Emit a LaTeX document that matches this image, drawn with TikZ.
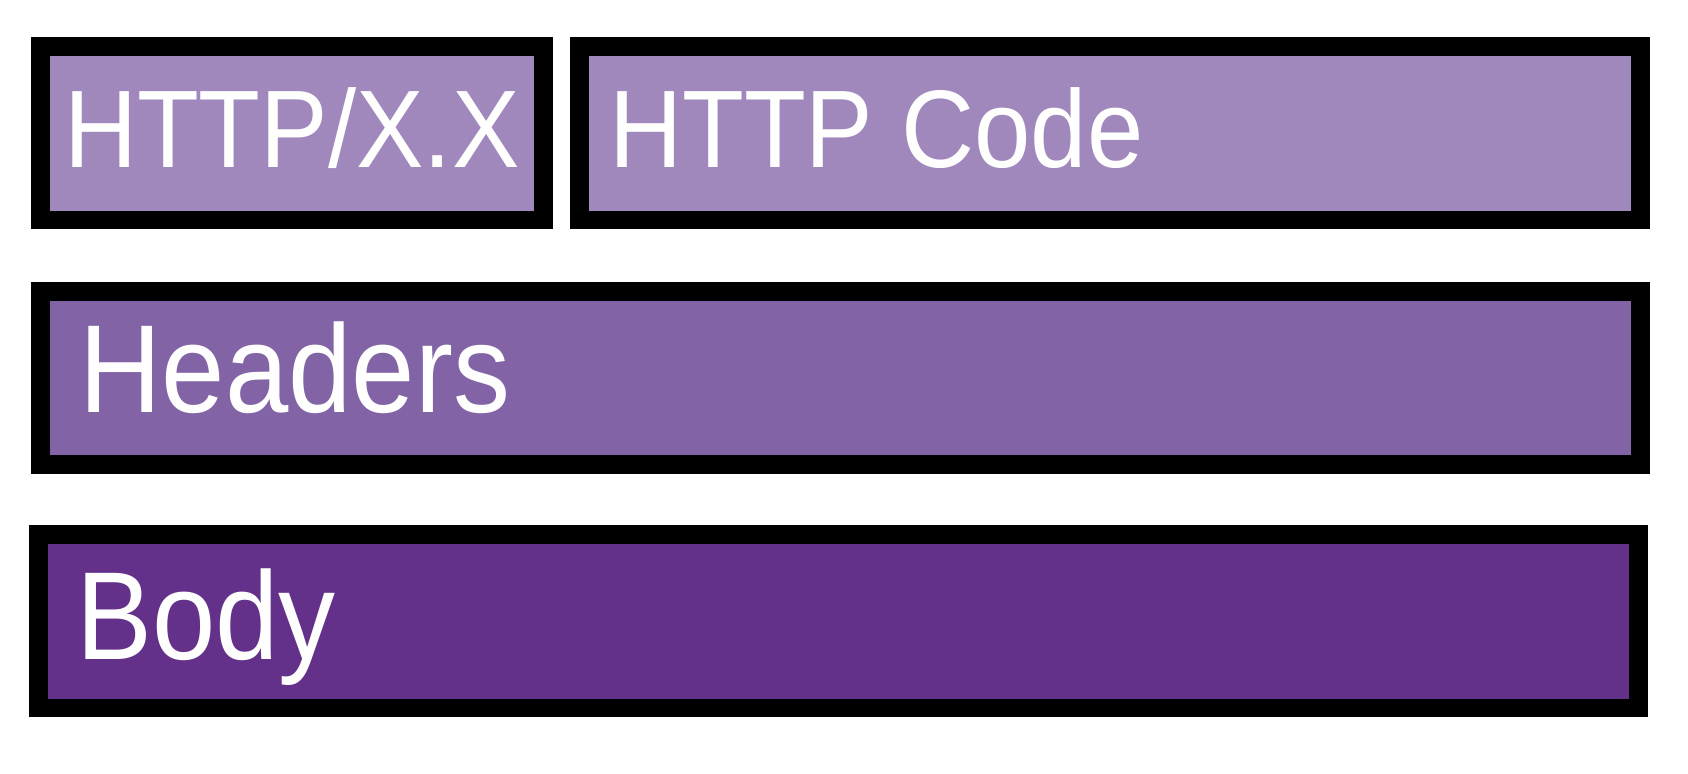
\documentclass[tikz,border=0pt]{standalone}
\usepackage{graphicx}
\usepackage{fontspec}
\setmainfont{Liberation Sans}
\definecolor{statuslight}{HTML}{A088BD}
\definecolor{headermid}{HTML}{8264A6}
\definecolor{bodydark}{HTML}{63318A}
% tall narrow lettering, like the original
\newcommand{\tallsmall}[1]{\scalebox{1}[1.09]{#1}}
\newcommand{\tallbig}[1]{\scalebox{1}[1.10]{#1}}

\begin{document}
\begin{tikzpicture}[
		field/.style={rectangle, draw=black, line width=0.187cm, inner sep=0pt, minimum height=1.733cm},
		fieldtext/.style={text=white, inner sep=0pt, anchor=base west},
		small/.style={font=\fontsize{28.8}{30}\selectfont},
		big/.style={font=\fontsize{32.4}{34}\selectfont}
	]
	\useasboundingbox (0,0) rectangle (16.88,7.74);

	% status line
	\node[field, fill=statuslight, minimum width=5.033cm] (version) at (2.92,6.407) [] {};
	\node[field, fill=statuslight, minimum width=10.613cm] (code) at (11.10,6.407) [] {};
	\node[fieldtext, small] (versiontext) at (0.633,6.06) [] {\tallsmall{HTTP/X.X}};
	\node[fieldtext, small] (codetext) at (6.084,6.06) [] {\tallsmall{HTTP Code}};

	% headers
	\node[field, fill=headermid, minimum width=16.003cm] (headers) at (8.405,3.96) [] {};
	\node[fieldtext, big] (headerstext) at (0.79,3.61) [] {\tallbig{Headers}};

	% body
	\node[field, fill=bodydark, minimum width=15.995cm] (body) at (8.384,1.527) [] {};
	\node[fieldtext, big] (bodytext) at (0.757,1.147) [] {\tallbig{Body}};
\end{tikzpicture}
\end{document}
